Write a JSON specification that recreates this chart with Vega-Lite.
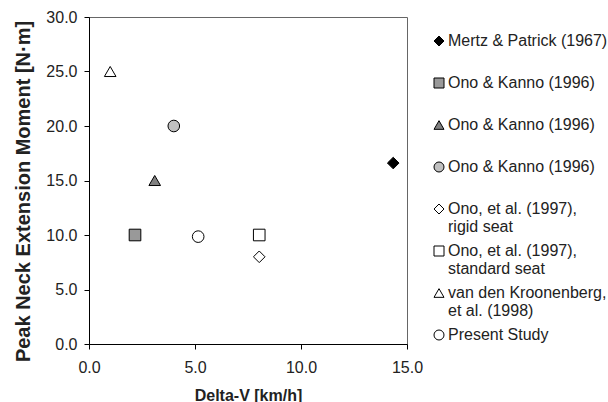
{
  "$schema": "https://vega.github.io/schema/vega-lite/v6.json",
  "autosize": {"type": "none"},
  "padding": {"left": 89, "top": 17, "right": 201, "bottom": 58},
  "width": 318,
  "height": 327,
  "background": "white",
  "config": {
    "font": "Liberation Sans",
    "view": {"stroke": "#666666", "strokeWidth": 1},
    "axis": {
      "grid": false,
      "domainColor": "black",
      "tickColor": "black",
      "tickSize": 5,
      "labelFlush": false,
      "labelFont": "Liberation Sans",
      "labelFontSize": 16,
      "labelColor": "#222222",
      "titleFont": "Liberation Sans",
      "titleColor": "#222222",
      "titleFontWeight": "bold"
    },
    "legend": {
      "labelFont": "Liberation Sans",
      "labelFontSize": 16,
      "labelColor": "#222222"
    }
  },
  "data": {
    "values": [
      {"key": "1", "study": "Mertz & Patrick (1967)", "dv": 14.35, "moment": 16.6},
      {"key": "2", "study": "Ono & Kanno (1996)", "dv": 2.17, "moment": 10.0},
      {"key": "3", "study": "Ono & Kanno (1996)", "dv": 3.1, "moment": 15.0},
      {"key": "4", "study": "Ono & Kanno (1996)", "dv": 4.0, "moment": 20.0},
      {"key": "5", "study": "Ono, et al. (1997), rigid seat", "dv": 8.03, "moment": 8.0},
      {"key": "6", "study": "Ono, et al. (1997), standard seat", "dv": 8.03, "moment": 10.0},
      {"key": "7", "study": "van den Kroonenberg, et al. (1998)", "dv": 1.0, "moment": 25.0},
      {"key": "8", "study": "Present Study", "dv": 5.15, "moment": 9.85}
    ]
  },
  "mark": {"type": "point", "filled": true, "strokeWidth": 1, "opacity": 1, "size": 135},
  "encoding": {
    "x": {
      "field": "dv", "type": "quantitative",
      "scale": {"domain": [0, 15], "nice": false},
      "axis": {"values": [0, 5, 10, 15], "format": ".1f", "title": "Delta-V [km/h]", "titleFontSize": 16, "labelPadding": 10, "titlePadding": 12}
    },
    "y": {
      "field": "moment", "type": "quantitative",
      "scale": {"domain": [0, 30], "nice": false},
      "axis": {"values": [0, 5, 10, 15, 20, 25, 30], "format": ".1f", "title": "Peak Neck Extension Moment [N·m]", "titleFontSize": 20, "labelPadding": 7, "titlePadding": 12, "titleY": 174}
    },
    "shape": {
      "field": "key", "type": "nominal",
      "scale": {"domain": ["1","2","3","4","5","6","7","8"], "range": ["diamond","square","triangle-up","circle","diamond","square","triangle-up","circle"]},
      "legend": {
        "title": null,
        "orient": "none",
        "legendX": 342,
        "legendY": 16,
        "symbolSize": 100,
        "symbolStrokeWidth": 1,
        "labelOffset": 1,
        "labelLimit": 300,
        "rowPadding": 8,
        "labelExpr": "split(['Mertz & Patrick (1967)| ','Ono & Kanno (1996)| ','Ono & Kanno (1996)| ','Ono & Kanno (1996)| ','Ono, et al. (1997),|rigid seat','Ono, et al. (1997),|standard seat','van den Kroonenberg,|et al. (1998)','Present Study| '][toNumber(datum.value) - 1], '|')"
      }
    },
    "fill": {
      "field": "key", "type": "nominal",
      "scale": {"domain": ["1","2","3","4","5","6","7","8"], "range": ["black","#999999","#808080","#c0c0c0","white","white","white","white"]}
    },
    "stroke": {
      "field": "key", "type": "nominal",
      "scale": {"domain": ["1","2","3","4","5","6","7","8"], "range": ["black","black","black","black","black","black","black","black"]}
    }
  }
}
